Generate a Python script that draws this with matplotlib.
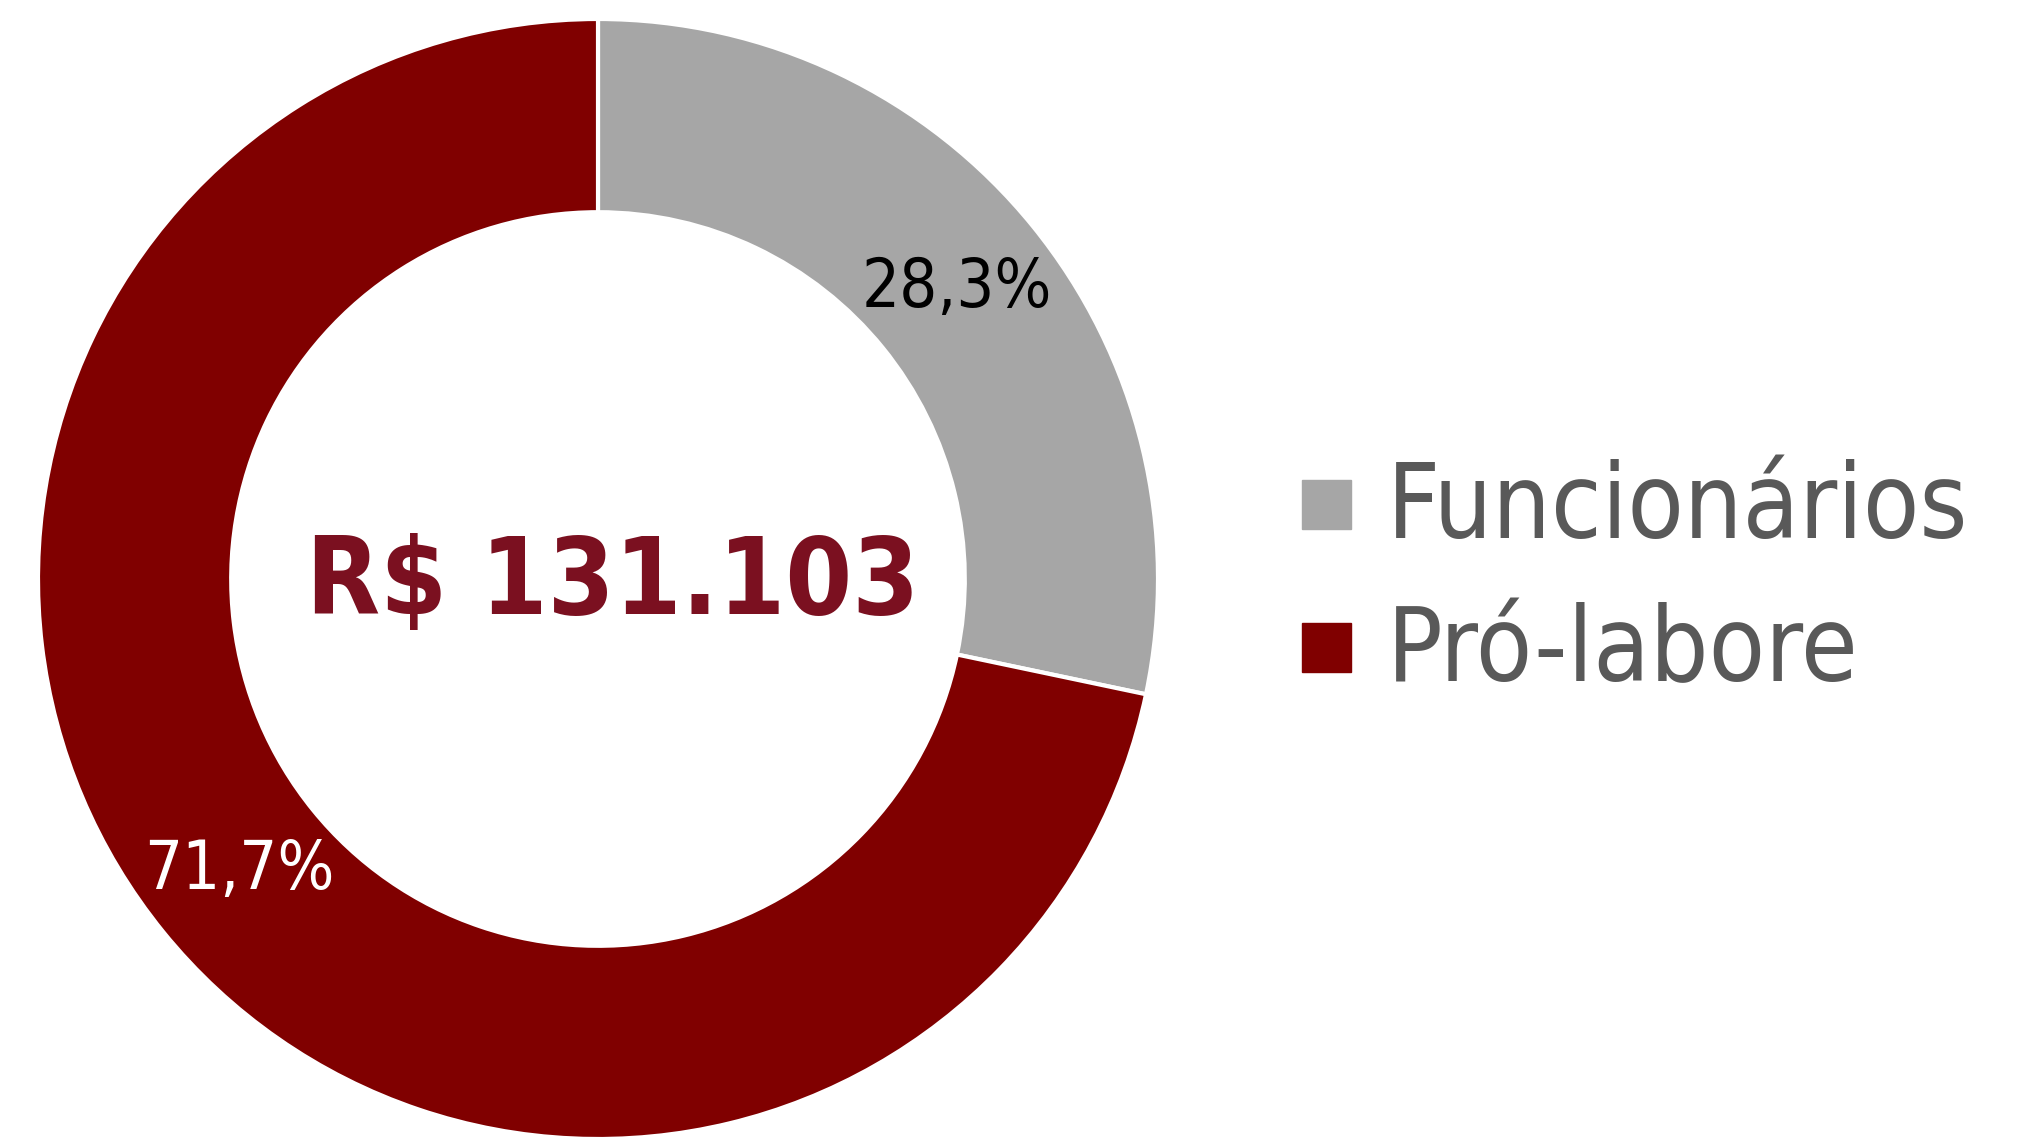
import matplotlib
matplotlib.use("Agg")
import matplotlib.pyplot as plt

# data
categorias = ["Funcionários", "Pró-labore"]
valores = [28.3, 71.7]
cores = ["#A6A6A6", "#800000"]
cores_pct = ["black", "white"]
total = "R$ 131.103"

W, H = 2018, 1138
fig = plt.figure(figsize=(W / 100, H / 100), dpi=100)

# donut: centre (598, 579) px, radius 560 px
cx, cy, R = 598, 579, 560
ax = fig.add_axes([(cx - R) / W, (H - cy - R) / H, 2 * R / W, 2 * R / H])
wedges, textos, pcts = ax.pie(
    valores, colors=cores, startangle=90, counterclock=False, radius=1,
    autopct=lambda p: f"{p:.1f}%".replace(".", ","), pctdistance=0.825,
    wedgeprops=dict(width=0.345, edgecolor="white", linewidth=3),
)
for t, c in zip(pcts, cores_pct):
    t.set_color(c)
    t.set_fontsize(48)
    t.set_family(["DejaVu Sans"])
    t.set_stretch("condensed")
ax.set_xlim(-1, 1)
ax.set_ylim(-1, 1)
ax.set_aspect("equal")
ax.axis("off")

ax.text(0.027, -0.0625, total, ha="center", va="baseline", color="#7B1020",
        fontsize=77, fontweight="bold", family=["DejaVu Sans"], stretch="condensed")

# legend
leg_y = [505, 648]
base_y = [538, 681]
for cat, cor, y, b in zip(categorias, cores, leg_y, base_y):
    fig.patches.append(plt.Rectangle((1302 / W, 1 - (y + 24) / H), 49 / W, 49 / H,
                                     transform=fig.transFigure, color=cor))
    fig.text(1387 / W, 1 - b / H, cat, ha="left", va="baseline", color="#595959",
             fontsize=74, family=["DejaVu Sans"], stretch="condensed")

fig.savefig("out.png", dpi=100)
